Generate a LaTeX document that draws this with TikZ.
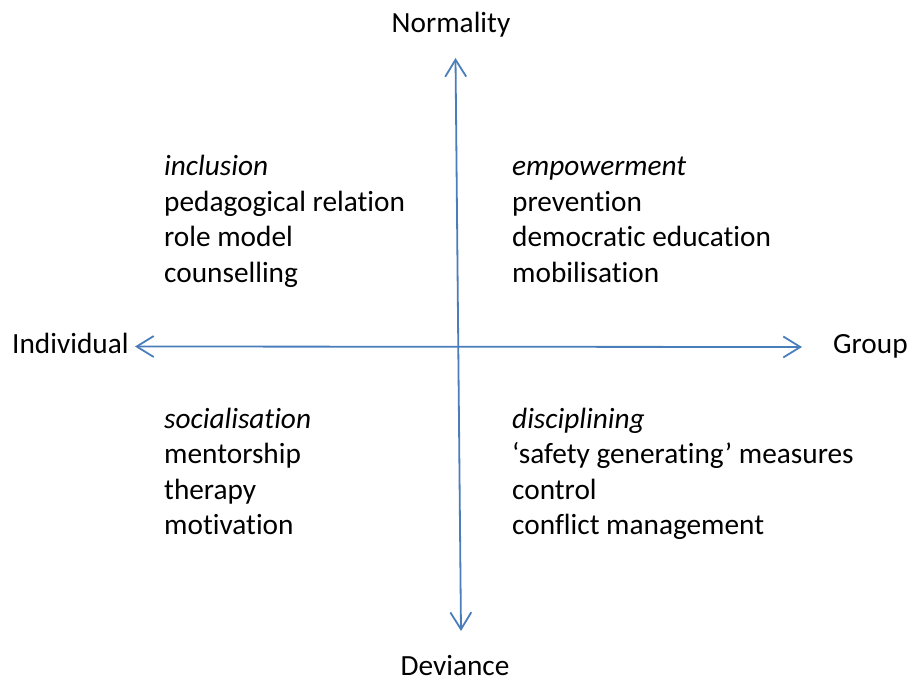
\documentclass[tikz,border=0pt]{standalone}
\usepackage{fontspec}
\setmainfont{Carlito}[Ligatures=NoCommon]
\usetikzlibrary{arrows.meta}
\definecolor{axisblue}{RGB}{74,126,187}
\tikzset{
  axis/.style={draw=axisblue, line width=1.8pt, {Straight Barb[length=17pt,width=21pt,line width=1.8pt]}-{Straight Barb[length=17pt,width=21pt,line width=1.8pt]}},
  lbl/.style={inner sep=0pt, font=\fontsize{29.3}{36}\selectfont, text=black},
  item/.style={lbl, anchor=base west},
}
\begin{document}
\begin{tikzpicture}[x=1pt,y=-1pt]
\useasboundingbox (0,0) rectangle (909,682);
\coordinate (vt) at (455.5,58);
\coordinate (vb) at (461,631);
\coordinate (hl) at (135,346.5);
\coordinate (hr) at (802,347);
\draw[axis] (vt) -- (vb);
\draw[axis] (hl) -- (hr);
% axis labels
\node[lbl, anchor=base] (norm) at (451,32.5) {Normality};
\node[lbl, anchor=base] (dev) at (455,675) {Deviance};
\node[lbl, anchor=base west] (ind) at (12,353.5) {Individual};
\node[lbl, anchor=base west] (grp) at (833,353.5) {Group};
% upper left
\node[item] (ul1) at (164,175.5) {\itshape inclusion};
\node[item] (ul2) at (164,211) {pedagogical relation};
\node[item] (ul3) at (164,246.5) {role model};
\node[item] (ul4) at (164,282) {counselling};
% upper right
\node[item] (ur1) at (512,175.5) {\itshape empowerment};
\node[item] (ur2) at (512,211) {prevention};
\node[item] (ur3) at (512,246.5) {democratic education};
\node[item] (ur4) at (512,282) {mobilisation};
% lower left
\node[item] (ll1) at (164,428) {\itshape socialisation};
\node[item] (ll2) at (164,463.5) {mentorship};
\node[item] (ll3) at (164,499) {therapy};
\node[item] (ll4) at (164,534.5) {motivation};
% lower right
\node[item] (lr1) at (512,428) {\itshape disciplining};
\node[item] (lr2) at (512,463.5) {‘safety generating’ measures};
\node[item] (lr3) at (512,499) {control};
\node[item] (lr4) at (512,534.5) {conflict management};
\end{tikzpicture}
\end{document}
